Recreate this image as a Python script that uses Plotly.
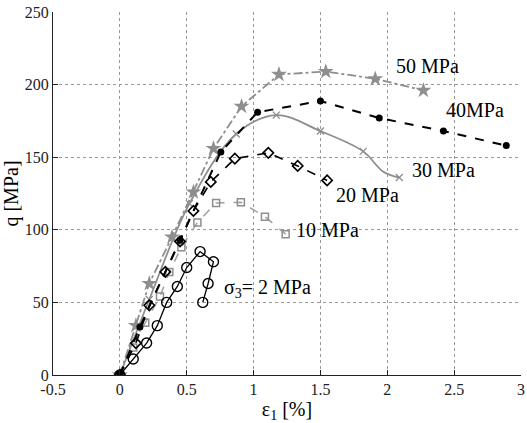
import plotly.graph_objects as go

# 2 MPa
x2 = [0, 0.10, 0.20, 0.28, 0.35, 0.43, 0.50, 0.60, 0.70, 0.66, 0.62]
q2 = [0, 11, 22, 34, 50, 61, 74, 85, 78, 63, 50]
# 10 MPa
x10 = [0, 0.10, 0.19, 0.30, 0.37, 0.46, 0.58, 0.72, 0.905, 1.085, 1.24]
q10 = [0, 19, 36, 54, 71, 88, 105, 118.5, 119, 109, 97]
# 20 MPa
x20 = [0, 0.12, 0.22, 0.34, 0.45, 0.55, 0.68, 0.86, 1.11, 1.33, 1.55]
q20 = [0, 22, 48, 71, 92, 113, 133, 149, 153, 144, 134]
# 30 MPa
x30 = [0, 0.22, 0.52, 0.87, 1.17, 1.50, 1.82, 1.97, 2.09]
q30 = [0, 52, 118, 166, 179, 168, 154, 140, 136]
m30 = [True, True, True, True, True, True, True, False, True]
# 40 MPa
x40 = [0, 0.15, 0.45, 0.755, 1.03, 1.50, 1.94, 2.42, 2.89]
q40 = [0, 33, 93, 153.6, 181, 188.7, 177, 168, 158]
# 50 MPa
x50 = [0, 0.12, 0.22, 0.39, 0.55, 0.70, 0.91, 1.19, 1.54, 1.91, 2.27]
q50 = [0, 34, 63, 95, 126, 156, 185, 207, 209, 204, 196]

xticks = [-0.5, 0, 0.5, 1, 1.5, 2, 2.5, 3]
xticklabels = ["-0.5", "0", "0.5", "1", "1.5", "2", "2.5", "3"]
yticks = [0, 50, 100, 150, 200, 250]

GRAY = "#8e8e8e"
FONT = "Liberation Serif"

fig = go.Figure()
fig.add_trace(go.Scatter(x=x10, y=q10, mode="lines+markers",
                         line=dict(color="#a0a0a0", width=1.5, dash="dash"),
                         marker=dict(symbol="square-open", size=7, color=GRAY, line=dict(width=1.5))))
fig.add_trace(go.Scatter(x=x30, y=q30, mode="lines", line_shape="spline",
                         line=dict(color=GRAY, width=1.8)))
fig.add_trace(go.Scatter(x=[a for a, m in zip(x30, m30) if m], y=[b for b, m in zip(q30, m30) if m],
                         mode="markers",
                         marker=dict(symbol="x-thin-open", size=7, color=GRAY, line=dict(width=1.3, color=GRAY))))
fig.add_trace(go.Scatter(x=x50, y=q50, mode="lines+markers",
                         line=dict(color=GRAY, width=1.8, dash="dashdot"),
                         marker=dict(symbol="star", size=12, color=GRAY)))
fig.add_trace(go.Scatter(x=x40, y=q40, mode="lines+markers",
                         line=dict(color="black", width=2, dash="dash"),
                         marker=dict(symbol="circle", size=7, color="black")))
fig.add_trace(go.Scatter(x=x20, y=q20, mode="lines+markers",
                         line=dict(color="black", width=1.6, dash="dash"),
                         marker=dict(symbol="diamond-open", size=8, color="black", line=dict(width=1.6))))
fig.add_trace(go.Scatter(x=x2, y=q2, mode="lines+markers",
                         line=dict(color="black", width=1.3),
                         marker=dict(symbol="circle-open", size=10, color="black", line=dict(width=1.4))))

ann = [
    (2.30, 212.5, "50 MPa"),
    (2.655, 182.5, "40MPa"),
    (2.42, 141.5, "30 MPa"),
    (1.855, 124.3, "20 MPa"),
    (1.555, 100.2, "10 MPa"),
    (1.107, 59.6, "σ<sub>3</sub>= 2 MPa"),
]
for ax_, ay_, t in ann:
    fig.add_annotation(x=ax_, y=ay_, text=t, showarrow=False,
                       font=dict(family=FONT, size=20, color="black"))

fig.update_layout(
    width=527, height=423,
    margin=dict(l=53, r=6, t=12, b=48),
    paper_bgcolor="white", plot_bgcolor="white",
    showlegend=False,
    font=dict(family=FONT, size=16, color="black"),
    xaxis=dict(range=[-0.5, 3], tickvals=xticks, ticktext=xticklabels,
               showgrid=True, gridcolor="#999", griddash="dot", gridwidth=1,
               showline=True, linecolor="#222", linewidth=1.3, mirror=False,
               ticks="inside", ticklen=5, tickcolor="#222", zeroline=False,
               tickfont=dict(family=FONT, size=16, color="#222"), automargin=False,
               title=dict(text="ε<sub>1</sub> [%]", font=dict(family=FONT, size=20), standoff=3)),
    yaxis=dict(range=[0, 250], tickvals=yticks,
               showgrid=True, gridcolor="#999", griddash="dot", gridwidth=1,
               showline=True, linecolor="#222", linewidth=1.3, mirror=False,
               ticks="inside", ticklen=5, tickcolor="#222", zeroline=False,
               tickfont=dict(family=FONT, size=16, color="#222"), automargin=False,
               title=dict(text="q [MPa]", font=dict(family=FONT, size=20), standoff=6)),
)

fig.write_html("out.html")
